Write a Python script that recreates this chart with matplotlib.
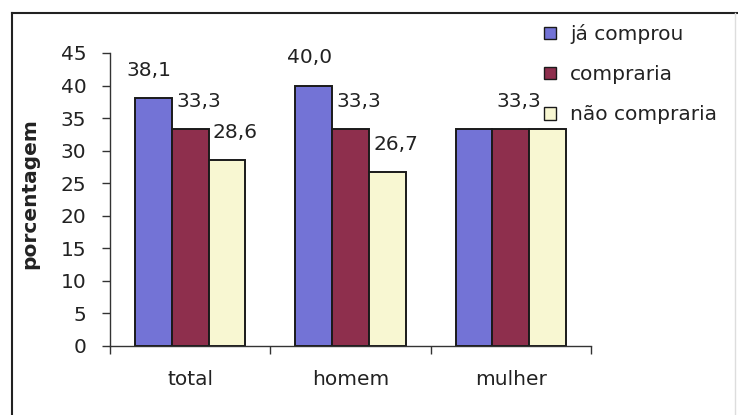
import numpy as np
import matplotlib
matplotlib.use("Agg")
from matplotlib import pyplot as plt
from matplotlib.lines import Line2D
from matplotlib.patches import Patch

plt.rcParams['font.family'] = ['DejaVu Sans']
FS = 14.5

# data
categorias = ['total', 'homem', 'mulher']
series = ['já comprou', 'compraria', 'não compraria']
ja_comprou = [38.1, 40.0, 33.3]
compraria = [33.3, 33.3, 33.3]
nao_compraria = [28.6, 26.7, 33.3]
cores = ['#7373d6', '#8e2f4d', '#f8f7d2']

valores = [ja_comprou, compraria, nao_compraria]
# mulher: only the middle label is visible
mostrar = [[True, True, False], [True, True, True], [True, True, False]]

fig = plt.figure(figsize=(7.38, 4.15), dpi=100)
ax = fig.add_axes([0.149, 0.1663, 0.652, 0.706])

x = np.arange(len(categorias))
w = 0.23
dx_label = [-3, 6, 6]
for i, (vals, cor) in enumerate(zip(valores, cores)):
    bars = ax.bar(x + (i - 1) * w, vals, width=w, color=cor,
                  edgecolor='#1a1a1a', linewidth=1.4, zorder=2)
    for j, (b, v) in enumerate(zip(bars, vals)):
        if not mostrar[i][j]:
            continue
        ax.annotate(f'{v:.1f}'.replace('.', ','),
                    (b.get_x() + b.get_width() / 2, v),
                    xytext=(dx_label[i], 16), textcoords='offset points',
                    ha='center', va='baseline', fontsize=FS, color='#222222')

ax.set_xlim(-0.5, 2.5)
ax.set_ylim(0, 45)
ax.set_yticks(np.arange(0, 46, 5))
ax.set_xticks(x)
ax.set_xticklabels(categorias)
ax.set_xticks([-0.5, 0.5, 1.5, 2.5], minor=True)
ax.tick_params(axis='x', which='major', length=0, pad=17, labelsize=FS,
               labelcolor='#222222')
ax.tick_params(axis='x', which='minor', length=6, width=1, color='#333333')
ax.tick_params(axis='y', length=6, width=1, pad=11, labelsize=FS,
               color='#333333', labelcolor='#222222')

for s in ['top', 'right']:
    ax.spines[s].set_visible(False)
for s in ['left', 'bottom']:
    ax.spines[s].set_color('#333333')
    ax.spines[s].set_linewidth(1)

ax.set_ylabel('porcentagem', fontsize=FS, fontweight='bold', color='#222222')
ax.yaxis.set_label_coords(-0.146, 0.52)

handles = [Patch(facecolor=c, edgecolor='#1a1a1a', linewidth=1) for c in cores]
leg = fig.legend(handles, series, loc='upper left',
                 bbox_to_anchor=(540 / 738, 1 - 20 / 415),
                 frameon=True, fontsize=FS, handlelength=0.6,
                 handleheight=0.6, handletextpad=0.7, labelspacing=1.05,
                 borderpad=0.2, borderaxespad=0)
leg.get_frame().set_facecolor('white')
leg.get_frame().set_edgecolor('none')
leg.get_frame().set_alpha(1)
for t in leg.get_texts():
    t.set_color('#222222')

# chart area border
fig.add_artist(Line2D([12 / 738, 12 / 738], [1 - 13 / 415, 0], color='#222222',
                      linewidth=1.5, transform=fig.transFigure))
fig.add_artist(Line2D([12 / 738, 737 / 738], [1 - 13 / 415, 1 - 13 / 415],
                      color='#222222', linewidth=1.5, transform=fig.transFigure))
fig.add_artist(Line2D([735 / 738, 735 / 738], [1 - 13 / 415, 0], color='#dddddd',
                      linewidth=1, transform=fig.transFigure))

fig.savefig('out.png', dpi=100)
